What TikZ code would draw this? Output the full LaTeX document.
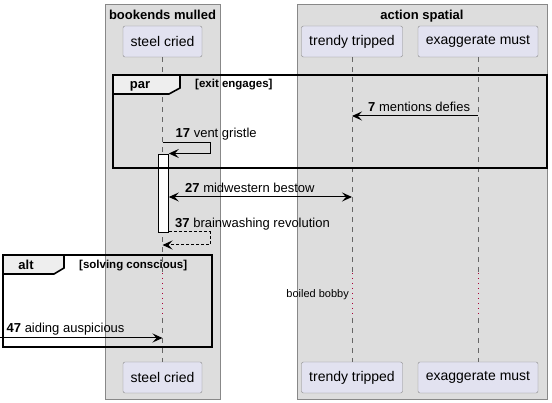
\documentclass[tikz,border=0pt]{standalone}
\usepackage{fontspec}
\setmainfont{Liberation Sans}
\usetikzlibrary{arrows.meta}
\definecolor{boxgray}{HTML}{DDDDDD}
\definecolor{partfill}{HTML}{E2E2F0}
\definecolor{partline}{HTML}{888888}
\definecolor{lifegray}{HTML}{666666}
\definecolor{tabgray}{HTML}{EEEEEE}
\definecolor{delayred}{HTML}{A80036}
\begin{document}
\begin{tikzpicture}[x=1pt,y=-1pt,
  part/.style={draw=partline,fill=partfill,rounded corners=2pt,minimum height=31pt,inner sep=0pt,font=\fontsize{14}{16}\selectfont},
  grp/.style={draw=partline,fill=boxgray,line width=1pt},
  life/.style={draw=lifegray,line width=0.8pt,dash pattern=on 5pt off 5pt},
  delay/.style={draw=delayred,line width=1pt,dash pattern=on 1pt off 4pt},
  msg/.style={-{Stealth[length=10pt,width=9pt,inset=4pt]},line width=1pt},
  lbl/.style={anchor=base west,inner sep=0pt,font=\fontsize{13}{15}\selectfont},
  grd/.style={anchor=base west,inner sep=0pt,font=\fontsize{11.5}{13}\selectfont\bfseries},
  frm/.style={line width=1.6pt}]
  \useasboundingbox (0,0) rectangle (552,403);
  \draw [grp] (105,5) rectangle (220,400);
  \draw [grp] (297,5) rectangle (547,400);
  \node [anchor=base,inner sep=0pt,font=\fontsize{13}{15}\selectfont\bfseries] (bm) at (162.5,19.5) {bookends mulled};
  \node [anchor=base,inner sep=0pt,font=\fontsize{13}{15}\selectfont\bfseries] (as) at (422,19.5) {action spatial};
  \node [part,minimum width=79pt] (sc) at (162.5,41.5) {steel cried};
  \node [part,minimum width=101pt] (tt) at (352,41.5) {trendy tripped};
  \node [part,minimum width=120pt] (em) at (478,41.5) {exaggerate must};
  \node [part,minimum width=79pt] (sc2) at (162.5,377.5) {steel cried};
  \node [part,minimum width=101pt] (tt2) at (352,377.5) {trendy tripped};
  \node [part,minimum width=120pt] (em2) at (478,377.5) {exaggerate must};
  \coordinate (d1) at (0,273);
  \coordinate (d2) at (0,318);
  \foreach \p in {sc,tt,em} {
    \draw [life] (\p.south) -- (\p.south |- d1);
    \draw [delay] (\p.south |- d1) -- (\p.south |- d2);
    \draw [life] (\p.south |- d2) -- (\p2.north);
  }
  \node [anchor=base east,inner sep=0pt,font=\fontsize{11}{13}\selectfont] (bb) at (349,298) {boiled bobby};
  \node [draw,fill=white,line width=1pt,minimum width=10pt,minimum height=78pt,inner sep=0pt] (act) at (163.3,194) {};
  \coordinate (y7) at (0,116);
  \coordinate (y17) at (0,142.7);
  \coordinate (y17b) at (0,153.5);
  \coordinate (y27) at (0,197);
  \coordinate (y37) at (0,232);
  \coordinate (y37b) at (0,245);
  \coordinate (y47) at (0,338);
  \coordinate (tl) at (210,0);
  \draw [msg] (em |- y7) -- (tt |- y7);
  \node [lbl] (l7) at (368,112) {\textbf{7} mentions defies};
  \draw [msg] (sc |- y17) -- (tl |- y17) -- (tl |- y17b) -- (act.east |- y17b);
  \node [lbl] (l17) at (175.5,137.7) {\textbf{17} vent gristle};
  \draw [msg,{Stealth[length=10pt,width=9pt,inset=4pt]}-{Stealth[length=10pt,width=9pt,inset=4pt]}] (act.east |- y27) -- (tt |- y27);
  \node [lbl] (l27) at (185,192.5) {\textbf{27} midwestern bestow};
  \draw [msg,dash pattern=on 3pt off 2pt] (act.east |- y37) -- (tl |- y37) -- (tl |- y37b) -- (sc |- y37b);
  \node [lbl] (l37) at (175,227.5) {\textbf{37} brainwashing revolution};
  \draw [msg] (0,338) -- (sc |- y47);
  \node [lbl] (l47) at (6.5,333) {\textbf{47} aiding auspicious};
  \draw [frm,fill=tabgray] (113,75) -- (180,75) -- (180,88) -- (169,94) -- (113,94) -- cycle;
  \draw [frm] (113,75) rectangle (547,168);
  \node [anchor=base,inner sep=0pt,font=\fontsize{13}{15}\selectfont\bfseries] (par) at (140,89) {par};
  \node [grd] (gpar) at (195,87.5) {[exit engages]};
  \draw [frm,fill=tabgray] (3,255) -- (64,255) -- (64,268) -- (54,274) -- (3,274) -- cycle;
  \draw [frm] (3,255) rectangle (212,347);
  \node [anchor=base,inner sep=0pt,font=\fontsize{13}{15}\selectfont\bfseries] (alt) at (26,270) {alt};
  \node [grd] (galt) at (79,269) {[solving conscious]};
\end{tikzpicture}
\end{document}
